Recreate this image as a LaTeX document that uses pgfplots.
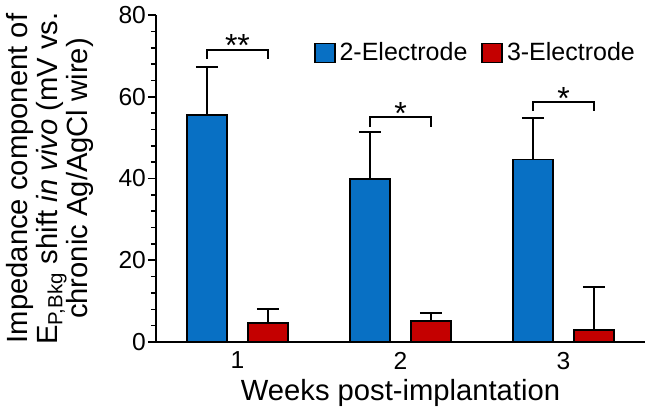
\documentclass[border=0pt]{standalone}
\usepackage{fontspec}
\setmainfont{Liberation Sans}
\usepackage{pgfplots}
\pgfplotsset{compat=1.18}
\definecolor{barblue}{RGB}{8,112,196}
\definecolor{barred}{RGB}{196,0,0}
\begin{document}
\begin{tikzpicture}
\path[use as bounding box] (-78pt,-36pt) rectangle (247pt,171pt);
\begin{axis}[
  at={(0,0)}, anchor=south west,
  scale only axis,
  width=244.5pt, height=163.5pt,
  xmin=0.5, xmax=3.5, ymin=0, ymax=80,
  axis x line=bottom, axis y line=left,
  axis line style={-, line width=1pt},
  xtick={1,2,3}, xticklabels={1,2,3},
  major x tick style={draw=none},
  ytick={0,20,40,60,80},
  minor y tick num=4,
  tick align=outside,
  major tick length=4pt, minor tick length=2.5pt,
  every tick/.style={black, line width=0.8pt},
  /pgf/number format/assume math mode=true,
  tick label style={font=\fontsize{12.3pt}{14pt}\selectfont},
  yticklabel style={xshift=2.5pt},
  xticklabel style={yshift=2.5pt},
  ybar=10.5pt, bar width=20pt,
  xlabel={Weeks post-implantation},
  xlabel style={at={(axis description cs:0.5,-0.1774)}, anchor=base, font=\fontsize{14.6pt}{16pt}\selectfont},
  ylabel={Impedance component of\\E\smash{\textsubscript{P,Bkg}} shift \textit{in vivo} (mV vs.\\chronic Ag/AgCl wire)},
  ylabel style={at={(axis description cs:-0.2168,0.5)}, anchor=center, align=center, font=\fontsize{14.6pt}{15pt}\selectfont},
  legend style={draw=none, fill=none, at={(axis description cs:0.31,0.884)}, anchor=west,
    legend columns=2, font=\fontsize{12.5pt}{14pt}\selectfont,
    /tikz/every even column/.append style={column sep=5pt}},
  legend image code/.code={\draw[#1, draw=black, line width=0.8pt] (0pt,-4.75pt) rectangle (10pt,4.75pt);},
  error bars/y dir=plus, error bars/y explicit,
  error bars/error mark options={rotate=90, mark size=5.5pt, line width=1pt, black},
  error bars/error bar style={line width=1pt, black},
]
\addplot[fill=barblue, draw=black, line width=0.75pt] coordinates {
  (1,55.5) +- (0,11.7)
  (2,39.9) +- (0,11.4)
  (3,44.6) +- (0,10.2)
};
\addplot[fill=barred, draw=black, line width=0.75pt] coordinates {
  (1,4.7) +- (0,3.4)
  (2,5.1) +- (0,2.0)
  (3,2.9) +- (0,10.5)
};
\legend{2-Electrode, 3-Electrode}
\draw[line width=1pt] (axis cs:0.81,69.2) -- (axis cs:0.81,71.4) -- (axis cs:1.19,71.4) -- (axis cs:1.19,69.2);
\draw[line width=1pt] (axis cs:1.81,52.6) -- (axis cs:1.81,55.0) -- (axis cs:2.19,55.0) -- (axis cs:2.19,52.6);
\draw[line width=1pt] (axis cs:2.81,56.5) -- (axis cs:2.81,58.7) -- (axis cs:3.19,58.7) -- (axis cs:3.19,56.5);
\node[anchor=base, font=\fontsize{16pt}{16pt}\selectfont, inner sep=0pt] at (axis cs:1,69.8) {**};
\node[anchor=base, font=\fontsize{16pt}{16pt}\selectfont, inner sep=0pt] at (axis cs:2,53.2) {*};
\node[anchor=base, font=\fontsize{16pt}{16pt}\selectfont, inner sep=0pt] at (axis cs:3,56.9) {*};
\end{axis}
\end{tikzpicture}
\end{document}
